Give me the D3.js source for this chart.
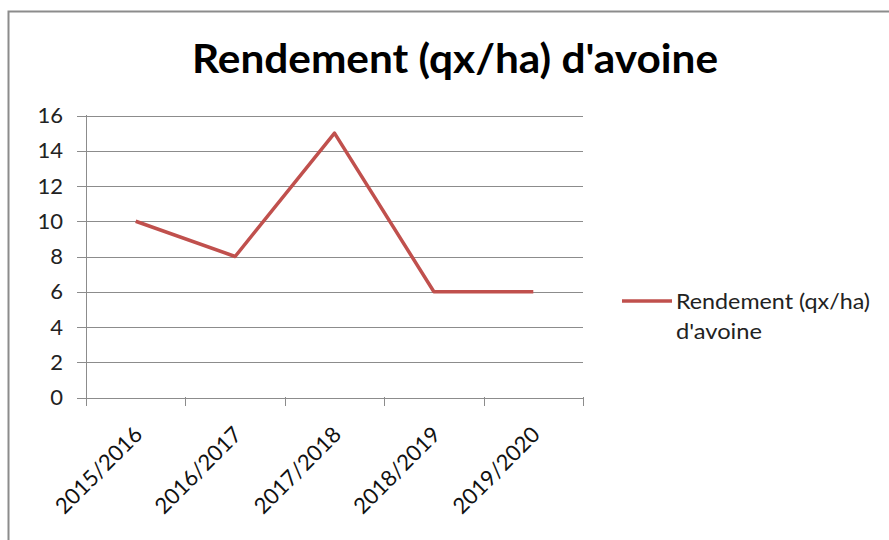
<!DOCTYPE html>
<html><head><meta charset="utf-8">
<script src="https://cdn.jsdelivr.net/npm/d3@7"></script>
<style>body{margin:0;background:#fff;} svg{display:block;}</style>
</head><body>
<svg id="c" width="889" height="540"></svg>
<script>
const categories = ["2015/2016","2016/2017","2017/2018","2018/2019","2019/2020"];
const values = [10, 8, 15, 6, 6];
const yTicks = [0,2,4,6,8,10,12,14,16];
const title = "Rendement (qx/ha) d'avoine";
const seriesName = ["Rendement (qx/ha)", "d'avoine"];

const svg = d3.select("#c");
const font = "Lato, 'Open Sans', sans-serif";
svg.append("rect").attr("x",8.5).attr("y",11.5).attr("width",900).attr("height",600)
  .attr("fill","#fff").attr("stroke","#8c8c8c").attr("stroke-width",2);

svg.append("text").attr("x",455).attr("y",73).attr("text-anchor","middle")
  .attr("font-family",font).attr("font-weight","bold").attr("font-size",40)
  .attr("textLength",526).attr("lengthAdjust","spacingAndGlyphs")
  .attr("fill","#000").text(title);

const x = d3.scaleBand().domain(categories).range([86,583]);
const y = d3.scaleLinear().domain([0,16]).range([397.5,115.5]);

const grid = svg.append("g");
grid.selectAll("line").data(yTicks).join("line")
  .attr("x1",77).attr("x2",583).attr("y1",d=>Math.round(y(d))+0.5).attr("y2",d=>Math.round(y(d))+0.5)
  .attr("stroke","#8c8c8c").attr("stroke-width",1);

const yAxis = svg.append("g").attr("transform","translate(86,0)")
  .call(d3.axisLeft(y).tickValues(yTicks).tickSize(0).tickPadding(23));
yAxis.select(".domain").attr("stroke","#8c8c8c");
yAxis.selectAll("text").attr("font-family",font).attr("font-size",22).attr("fill","#222");

const xAxis = svg.append("g").attr("transform","translate(0,398)")
  .call(d3.axisBottom(x).tickSize(0).tickFormat(""));
xAxis.select(".domain").attr("stroke","#8c8c8c");
const edges = [86].concat(categories.map(c=>x(c)+x.bandwidth()));
svg.append("g").selectAll("line").data(edges).join("line")
  .attr("x1",d=>Math.round(d)+0.5).attr("x2",d=>Math.round(d)+0.5).attr("y1",397).attr("y2",406)
  .attr("stroke","#8c8c8c");
svg.append("line").attr("x1",86.5).attr("x2",86.5).attr("y1",115).attr("y2",406).attr("stroke","#8c8c8c");

svg.append("g").selectAll("text").data(categories).join("text")
  .attr("transform",d=>`translate(${x(d)+x.bandwidth()/2+8},${436}) rotate(-45)`)
  .attr("text-anchor","end").attr("font-family",font).attr("font-size",22).attr("fill","#111")
  .text(d=>d);

const line = d3.line().x((d,i)=>x(categories[i])+x.bandwidth()/2).y(d=>y(d));
svg.append("path").datum(values).attr("d",line).attr("fill","none")
  .attr("stroke","#c0504d").attr("stroke-width",3.5).attr("stroke-linejoin","round");

svg.append("line").attr("x1",622).attr("x2",672).attr("y1",301).attr("y2",301)
  .attr("stroke","#c0504d").attr("stroke-width",3.5);
svg.append("text").attr("font-family",font).attr("font-size",21).attr("fill","#222")
  .selectAll("tspan").data(seriesName).join("tspan")
  .attr("x",676).attr("y",(d,i)=>309+i*30)
  .attr("textLength",(d,i)=>i===0?194:86).attr("lengthAdjust","spacingAndGlyphs")
  .text(d=>d);
</script>
</body></html>
